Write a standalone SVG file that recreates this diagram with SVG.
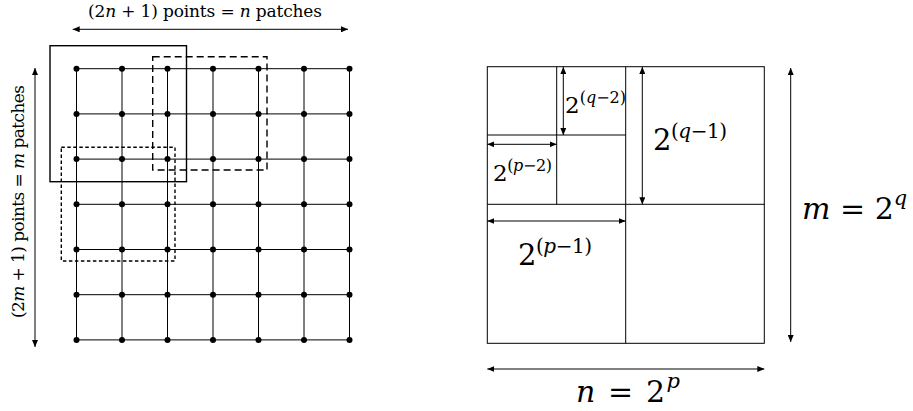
<svg xmlns="http://www.w3.org/2000/svg" width="913" height="411" viewBox="0 0 913 411">
<style>
.ln{stroke:#000;stroke-width:1;fill:none}
.dot{fill:#000}
.win{stroke:#000;stroke-width:1.4;fill:none}
.d1{stroke-dasharray:7 4}
.d2{stroke-dasharray:3.5 2.5}
.arr{stroke:#000;stroke-width:1;fill:none;marker-start:url(#ah);marker-end:url(#ah)}
.t{font-family:"DejaVu Serif","Liberation Serif",serif;fill:#000}
.i{font-style:italic}
.lab{font-size:17px}
.sm{font-size:23px}
.md{font-size:29px}
.lg{font-size:30px}
</style>
<defs>
<marker id="ah" viewBox="0 0 7 6" refX="7" refY="3" markerWidth="7" markerHeight="6" markerUnits="userSpaceOnUse" orient="auto-start-reverse">
<path d="M0,0 L7,3 L0,6 Z" fill="#000"/>
</marker>
</defs>

<g id="grid">
<path class="ln" d="M76.5,68.7H349.5M76.5,113.9H349.5M76.5,159.1H349.5M76.5,204.3H349.5M76.5,249.5H349.5M76.5,294.7H349.5M76.5,339.9H349.5M76.5,68.7V339.9M122,68.7V339.9M167.5,68.7V339.9M213,68.7V339.9M258.5,68.7V339.9M304,68.7V339.9M349.5,68.7V339.9"/>
<g class="dot">
<circle cx="76.5" cy="68.7" r="3"/><circle cx="122" cy="68.7" r="3"/><circle cx="167.5" cy="68.7" r="3"/><circle cx="213" cy="68.7" r="3"/><circle cx="258.5" cy="68.7" r="3"/><circle cx="304" cy="68.7" r="3"/><circle cx="349.5" cy="68.7" r="3"/>
<circle cx="76.5" cy="113.9" r="3"/><circle cx="122" cy="113.9" r="3"/><circle cx="167.5" cy="113.9" r="3"/><circle cx="213" cy="113.9" r="3"/><circle cx="258.5" cy="113.9" r="3"/><circle cx="304" cy="113.9" r="3"/><circle cx="349.5" cy="113.9" r="3"/>
<circle cx="76.5" cy="159.1" r="3"/><circle cx="122" cy="159.1" r="3"/><circle cx="167.5" cy="159.1" r="3"/><circle cx="213" cy="159.1" r="3"/><circle cx="258.5" cy="159.1" r="3"/><circle cx="304" cy="159.1" r="3"/><circle cx="349.5" cy="159.1" r="3"/>
<circle cx="76.5" cy="204.3" r="3"/><circle cx="122" cy="204.3" r="3"/><circle cx="167.5" cy="204.3" r="3"/><circle cx="213" cy="204.3" r="3"/><circle cx="258.5" cy="204.3" r="3"/><circle cx="304" cy="204.3" r="3"/><circle cx="349.5" cy="204.3" r="3"/>
<circle cx="76.5" cy="249.5" r="3"/><circle cx="122" cy="249.5" r="3"/><circle cx="167.5" cy="249.5" r="3"/><circle cx="213" cy="249.5" r="3"/><circle cx="258.5" cy="249.5" r="3"/><circle cx="304" cy="249.5" r="3"/><circle cx="349.5" cy="249.5" r="3"/>
<circle cx="76.5" cy="294.7" r="3"/><circle cx="122" cy="294.7" r="3"/><circle cx="167.5" cy="294.7" r="3"/><circle cx="213" cy="294.7" r="3"/><circle cx="258.5" cy="294.7" r="3"/><circle cx="304" cy="294.7" r="3"/><circle cx="349.5" cy="294.7" r="3"/>
<circle cx="76.5" cy="339.9" r="3"/><circle cx="122" cy="339.9" r="3"/><circle cx="167.5" cy="339.9" r="3"/><circle cx="213" cy="339.9" r="3"/><circle cx="258.5" cy="339.9" r="3"/><circle cx="304" cy="339.9" r="3"/><circle cx="349.5" cy="339.9" r="3"/>
</g>
</g>

<g id="window-solid"><rect class="win" x="50" y="45.7" width="136.5" height="136"/></g>
<g id="window-dashed"><rect class="win d1" x="152.7" y="56.7" width="114.3" height="113.3"/></g>
<g id="window-dotted"><rect class="win d2" x="61.3" y="147.3" width="113.7" height="113.7"/></g>

<g id="quadtree">
<rect class="ln" x="487.3" y="66.7" width="277" height="276.6"/>
<path class="ln" d="M625.7,66.7V343.3M487.3,204.3H764.3M556.7,66.7V204.3M487.3,135H625.7"/>
</g>

<g id="connectors">
<line class="arr" x1="72.7" y1="29.3" x2="348" y2="29.3"/>
<line class="arr" x1="35" y1="68" x2="35" y2="347"/>
<line class="arr" x1="563.3" y1="67" x2="563.3" y2="135"/>
<line class="arr" x1="487.3" y1="144.3" x2="556.7" y2="144.3"/>
<line class="arr" x1="642.3" y1="67" x2="642.3" y2="204.3"/>
<line class="arr" x1="487.3" y1="221" x2="625.7" y2="221"/>
<line class="arr" x1="790.7" y1="68" x2="790.7" y2="342"/>
<line class="arr" x1="487.3" y1="369" x2="764.3" y2="369"/>
</g>

<g id="labels">
<text class="t lab" x="88" y="17" textLength="234" lengthAdjust="spacing">(2<tspan class="i">n</tspan> + 1) points = <tspan class="i">n</tspan> patches</text>
<text class="t lab" transform="translate(24,318) rotate(-90)" x="0" y="0" textLength="233" lengthAdjust="spacing">(2<tspan class="i">m</tspan> + 1) points = <tspan class="i">m</tspan> patches</text>
<text class="t sm" x="565" y="113" textLength="61" lengthAdjust="spacing">2<tspan font-size="16" dy="-10">(<tspan class="i">q</tspan>−2)</tspan></text>
<text class="t sm" x="493" y="181" textLength="59" lengthAdjust="spacing">2<tspan font-size="16" dy="-10">(<tspan class="i">p</tspan>−2)</tspan></text>
<text class="t md" x="653" y="150" textLength="74" lengthAdjust="spacing">2<tspan font-size="20" dy="-12">(<tspan class="i">q</tspan>−1)</tspan></text>
<text class="t md" x="518" y="265" textLength="74" lengthAdjust="spacing">2<tspan font-size="20" dy="-12">(<tspan class="i">p</tspan>−1)</tspan></text>
<text class="t lg" x="802" y="219"><tspan class="i">m</tspan> = 2<tspan class="i" font-size="21" dy="-14">q</tspan></text>
<text class="t lg" x="576" y="402" textLength="104" lengthAdjust="spacing"><tspan class="i">n</tspan> = 2<tspan class="i" font-size="21" dy="-14">p</tspan></text>
</g>
</svg>
